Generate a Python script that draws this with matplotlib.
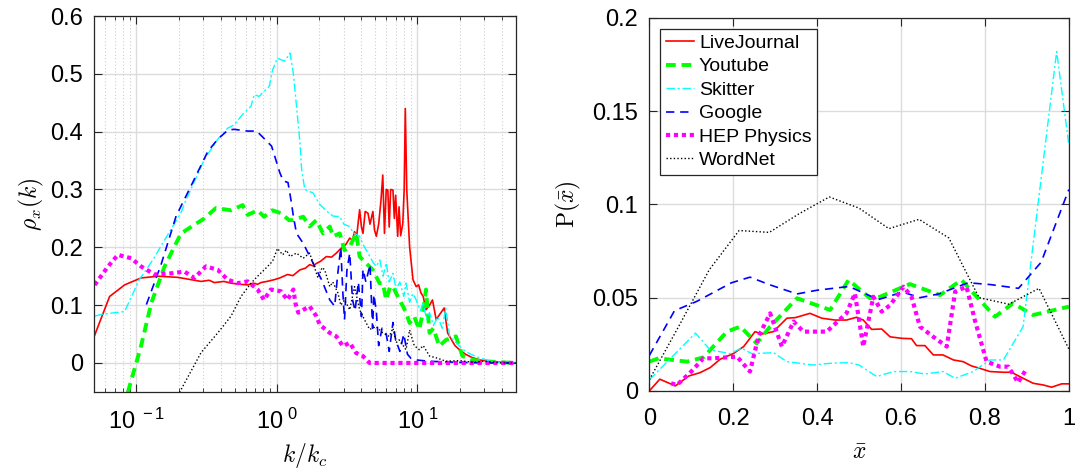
import numpy as np
import matplotlib
matplotlib.use('Agg')
import matplotlib.pyplot as plt
from matplotlib.ticker import LogLocator, NullFormatter, FixedLocator, FixedFormatter

# ---- left panel: rho_x(k) vs k/k_c ----
k_lj = [0.05, 0.0646, 0.0826, 0.108, 0.143, 0.198, 0.246, 0.289, 0.33, 0.359, 0.42, 0.472,
        0.55, 0.62, 0.68, 0.73, 0.77, 0.85, 0.957, 1.05, 1.19, 1.3, 1.46, 1.6, 1.71, 1.81,
        1.91, 2.05, 2.25, 2.45, 2.65, 2.8, 2.95, 3.1, 3.3, 3.45, 3.57, 3.7, 3.88, 4.0, 4.1,
        4.25, 4.45, 4.6, 4.82, 4.95, 5.1, 5.3, 5.5, 5.67, 5.83, 6.0, 6.16, 6.3, 6.45, 6.7,
        6.85, 7.0, 7.24, 7.4, 7.6, 7.87, 8.05, 8.2, 8.4, 8.8, 9.3, 9.8, 10.2, 10.6, 11.0,
        11.5, 12.2, 12.8, 13.6, 14.5, 15.5, 16.4, 17.5, 18.5, 19.9, 22, 24.7, 28, 33, 40, 50]
rho_lj = [0.045, 0.115, 0.135, 0.147, 0.150, 0.148, 0.144, 0.141, 0.143, 0.139, 0.141, 0.138,
          0.136, 0.135, 0.138, 0.136, 0.139, 0.141, 0.144, 0.147, 0.153, 0.151, 0.161, 0.164,
          0.170, 0.168, 0.172, 0.176, 0.184, 0.183, 0.190, 0.196, 0.201, 0.205, 0.216, 0.212,
          0.227, 0.220, 0.265, 0.235, 0.224, 0.262, 0.259, 0.240, 0.262, 0.230, 0.219, 0.240,
          0.280, 0.325, 0.224, 0.300, 0.299, 0.235, 0.300, 0.299, 0.250, 0.290, 0.219, 0.270,
          0.220, 0.241, 0.300, 0.440, 0.299, 0.201, 0.144, 0.132, 0.135, 0.121, 0.115, 0.092,
          0.100, 0.109, 0.075, 0.085, 0.095, 0.052, 0.040, 0.030, 0.023, 0.015, 0.009, 0.005,
          0.003, 0.001, 0.0]

k_yt = [0.087, 0.108, 0.128, 0.159, 0.208, 0.305, 0.369, 0.472, 0.571, 0.62, 0.73, 0.81, 0.93,
        1.07, 1.22, 1.31, 1.54, 1.71, 1.91, 2.13, 2.38, 2.51, 2.8, 3.03, 3.3, 3.67, 3.88, 4.33,
        4.82, 5.37, 5.67, 6.0, 6.4, 6.7, 7.45, 7.9, 8.3, 8.8, 9.5, 10.3, 11.0, 11.5, 12.2, 13,
        14.3, 16, 18.8, 20.9, 25, 30, 40, 50]
rho_yt = [-0.051, 0.029, 0.104, 0.167, 0.224, 0.250, 0.268, 0.264, 0.273, 0.256, 0.264, 0.253,
          0.264, 0.259, 0.247, 0.247, 0.253, 0.236, 0.247, 0.224, 0.236, 0.219, 0.224, 0.195,
          0.201, 0.224, 0.184, 0.172, 0.161, 0.138, 0.138, 0.109, 0.132, 0.132, 0.109, 0.098,
          0.087, 0.069, 0.080, 0.058, 0.090, 0.127, 0.052, 0.060, 0.029, 0.040, 0.046, 0.012,
          0.005, 0.003, 0.001, 0.0]

k_sk = [0.0506, 0.0565, 0.0826, 0.105, 0.131, 0.154, 0.208, 0.226, 0.305, 0.38, 0.447, 0.498,
        0.571, 0.655, 0.69, 0.748, 0.813, 0.882, 0.933, 1.01, 1.08, 1.14, 1.24, 1.31, 1.38,
        1.46, 1.5, 1.58, 1.81, 2.02, 2.25, 2.51, 2.8, 3.0, 3.3, 3.5, 3.88, 4.1, 4.45, 4.8, 5.1,
        5.4, 5.7, 6.0, 6.3, 6.7, 7.06, 7.5, 8.0, 8.3, 8.8, 9.3, 9.8, 10.5, 11.0, 11.6, 12.2,
        13, 14, 15, 15.9, 17, 18, 19.9, 22, 24, 27.5, 32, 41, 50]
rho_sk = [0.081, 0.084, 0.089, 0.144, 0.178, 0.207, 0.260, 0.282, 0.352, 0.387, 0.406, 0.412,
          0.430, 0.444, 0.464, 0.461, 0.470, 0.478, 0.507, 0.527, 0.524, 0.522, 0.536, 0.501,
          0.444, 0.381, 0.335, 0.300, 0.294, 0.274, 0.263, 0.254, 0.253, 0.240, 0.236, 0.225,
          0.219, 0.205, 0.190, 0.175, 0.167, 0.178, 0.150, 0.173, 0.140, 0.155, 0.127, 0.140,
          0.115, 0.138, 0.105, 0.120, 0.109, 0.090, 0.105, 0.075, 0.087, 0.065, 0.080, 0.060,
          0.095, 0.045, 0.040, 0.029, 0.020, 0.015, 0.009, 0.004, 0.0, 0.001]

k_go = [0.118, 0.15, 0.192, 0.245, 0.323, 0.38, 0.45, 0.498, 0.619, 0.718, 0.845, 0.917, 1.05,
        1.11, 1.2, 1.27, 1.31, 1.38, 1.54, 1.86, 2.08, 2.38, 2.58, 2.7, 2.85, 2.95, 3.03, 3.15,
        3.3, 3.45, 3.6, 3.8, 4.0, 4.1, 4.3, 4.6, 4.8, 4.9, 5.1, 5.3, 5.6, 6.0, 6.3, 6.7, 7.0,
        7.5, 8.0, 8.5, 9.0, 10, 12, 15, 20, 30, 50]
rho_go = [0.101, 0.170, 0.254, 0.306, 0.366, 0.387, 0.403, 0.404, 0.401, 0.401, 0.384, 0.375,
          0.329, 0.315, 0.312, 0.277, 0.254, 0.224, 0.207, 0.167, 0.144, 0.109, 0.098, 0.150,
          0.200, 0.120, 0.075, 0.160, 0.190, 0.110, 0.090, 0.140, 0.080, 0.162, 0.140, 0.170,
          0.060, 0.118, 0.090, 0.030, 0.060, 0.050, 0.020, 0.070, 0.040, 0.020, 0.050, 0.015,
          0.008, 0.005, 0.003, 0.002, 0.001, 0.0, 0.0]

k_hep = [0.0506, 0.063, 0.074, 0.092, 0.108, 0.135, 0.177, 0.22, 0.259, 0.313, 0.38, 0.447,
         0.526, 0.62, 0.73, 0.81, 0.906, 1.07, 1.19, 1.31, 1.36, 1.42, 1.71, 1.91, 2.02, 2.38,
         2.65, 2.95, 3.3, 3.67, 4.09, 4.57, 10, 50]
rho_hep = [0.135, 0.167, 0.187, 0.181, 0.167, 0.153, 0.155, 0.158, 0.147, 0.167, 0.161, 0.144,
           0.138, 0.141, 0.127, 0.109, 0.127, 0.124, 0.109, 0.127, 0.102, 0.087, 0.098, 0.081,
           0.066, 0.052, 0.046, 0.029, 0.035, 0.017, 0.012, 0.0, 0.0, 0.0]

k_wn = [0.203, 0.289, 0.38, 0.472, 0.556, 0.655, 0.73, 0.836, 0.933, 1.01, 1.1, 1.17, 1.24,
        1.38, 1.54, 1.71, 1.81, 1.96, 2.1, 2.19, 2.38, 2.5, 2.72, 2.85, 3.03, 3.3, 3.57, 3.88,
        4.2, 4.57, 5.1, 5.67, 6.3, 6.7, 7.06, 7.4, 8.3, 8.8, 9.5, 10.3, 11, 12.2, 14, 15.9, 20,
        25, 30, 40, 50]
rho_wn = [-0.051, 0.018, 0.052, 0.081, 0.115, 0.138, 0.150, 0.164, 0.176, 0.198, 0.187, 0.195,
          0.184, 0.190, 0.181, 0.190, 0.173, 0.147, 0.165, 0.161, 0.132, 0.140, 0.121, 0.100,
          0.109, 0.092, 0.132, 0.092, 0.075, 0.058, 0.063, 0.052, 0.046, 0.060, 0.035, 0.040,
          0.023, 0.057, 0.030, 0.023, 0.030, 0.012, 0.008, 0.003, 0.004, 0.001, 0.003, 0.0, 0.0]

# ---- right panel: P(xbar) ----
x_lj = [0, 0.025, 0.062, 0.094, 0.121, 0.145, 0.169, 0.20, 0.225, 0.252, 0.268, 0.296, 0.328,
        0.348, 0.383, 0.411, 0.443, 0.47, 0.494, 0.51, 0.53, 0.554, 0.574, 0.602, 0.625, 0.637,
        0.657, 0.677, 0.70, 0.725, 0.748, 0.768, 0.788, 0.812, 0.844, 0.863, 0.891, 0.915,
        0.939, 0.959, 0.983, 1.0]
p_lj = [0.0, 0.0063, 0.0027, 0.008, 0.0098, 0.0125, 0.017, 0.020, 0.0238, 0.0318, 0.0305,
        0.0318, 0.039, 0.0393, 0.0416, 0.039, 0.038, 0.038, 0.0395, 0.038, 0.033, 0.0332, 0.029,
        0.0282, 0.028, 0.0243, 0.0243, 0.0193, 0.0193, 0.0166, 0.0157, 0.0134, 0.0121, 0.0104,
        0.010, 0.010, 0.0068, 0.0041, 0.0032, 0.002, 0.0038, 0.0038]

x_yt = [0, 0.022, 0.09, 0.129, 0.185, 0.217, 0.256, 0.288, 0.352, 0.431, 0.475, 0.526, 0.55,
        0.621, 0.693, 0.744, 0.824, 0.867, 0.915, 1.0]
p_yt = [0.0157, 0.0175, 0.0157, 0.018, 0.0318, 0.0345, 0.0255, 0.0345, 0.0497, 0.0434, 0.0595,
        0.0497, 0.0505, 0.0573, 0.0514, 0.0595, 0.0398, 0.047, 0.0407, 0.0452]

x_sk = [0, 0.11, 0.145, 0.193, 0.22, 0.244, 0.296, 0.328, 0.39, 0.43, 0.475, 0.5, 0.542,
        0.582, 0.621, 0.657, 0.70, 0.729, 0.772, 0.812, 0.844, 0.891, 0.971, 1.0]
p_sk = [0.0059, 0.031, 0.022, 0.020, 0.023, 0.020, 0.0205, 0.0157, 0.0139, 0.0148, 0.0152,
        0.0139, 0.0077, 0.0104, 0.0104, 0.0091, 0.0104, 0.0068, 0.0104, 0.0166, 0.0166, 0.0345,
        0.182, 0.132]

x_go = [0, 0.06, 0.113, 0.196, 0.24, 0.286, 0.352, 0.40, 0.476, 0.546, 0.604, 0.645, 0.69,
        0.76, 0.814, 0.88, 0.934, 1.0]
p_go = [0.019, 0.043, 0.048, 0.058, 0.061, 0.057, 0.052, 0.054, 0.056, 0.049, 0.053, 0.050,
        0.052, 0.058, 0.057, 0.055, 0.069, 0.108]

x_hep = [0.052, 0.066, 0.10, 0.129, 0.153, 0.209, 0.24, 0.26, 0.288, 0.316, 0.344, 0.367,
         0.423, 0.47, 0.49, 0.51, 0.534, 0.554, 0.574, 0.606, 0.625, 0.645, 0.677, 0.709, 0.729,
         0.756, 0.776, 0.804, 0.836, 0.856, 0.879, 0.899]
p_hep = [0.0041, 0.0032, 0.0104, 0.0175, 0.0175, 0.0184, 0.0104, 0.029, 0.0416, 0.0238, 0.0372,
         0.0318, 0.0318, 0.0416, 0.0523, 0.0238, 0.0505, 0.0425, 0.046, 0.0559, 0.0505, 0.0345,
         0.029, 0.0238, 0.0532, 0.0559, 0.0379, 0.0157, 0.013, 0.013, 0.0045, 0.0118]

x_wn = [0, 0.071, 0.143, 0.214, 0.286, 0.357, 0.429, 0.5, 0.571, 0.643, 0.714, 0.786, 0.857,
        0.929, 1.0]
p_wn = [0.006, 0.035, 0.065, 0.086, 0.085, 0.095, 0.104, 0.098, 0.087, 0.092, 0.082, 0.050,
        0.0465, 0.055, 0.0225]

names = ['LiveJournal', 'Youtube', 'Skitter', 'Google', 'HEP Physics', 'WordNet']

plt.rcParams['font.family'] = ['Liberation Sans', 'DejaVu Sans']
plt.rcParams['mathtext.fontset'] = 'cm'

styles = [dict(color='#ff0000', lw=1.2, ls='-'),
          dict(color='#00ff00', lw=2.8, ls=(0, (2.5, 1.5))),
          dict(color='#00ffff', lw=1.0, ls=(0, (6, 2, 1.5, 2))),
          dict(color='#0000ff', lw=1.2, ls=(0, (5, 3.5))),
          dict(color='#ff00ff', lw=3.0, ls=(0, (1, 0.9))),
          dict(color='#000000', lw=1.0, ls=(0, (1, 1.6)))]

fig = plt.figure(figsize=(10.84, 4.71), dpi=100)
ax1 = fig.add_axes([0.0867, 0.168, 0.389, 0.798])
ax2 = fig.add_axes([0.599, 0.170, 0.387, 0.792])

left = [(k_lj, rho_lj), (k_yt, rho_yt), (k_sk, rho_sk), (k_go, rho_go), (k_hep, rho_hep), (k_wn, rho_wn)]
right = [(x_lj, p_lj), (x_yt, p_yt), (x_sk, p_sk), (x_go, p_go), (x_hep, p_hep), (x_wn, p_wn)]

for (x, y), st in zip(left, styles):
    ax1.plot(x, y, **st)
for (x, y), st, nm in zip(right, styles, names):
    ax2.plot(x, y, label=nm, **st)

ax1.set_xscale('log')
ax1.set_xlim(0.05, 50)
ax1.set_ylim(-0.05, 0.6)
ax1.xaxis.set_major_locator(FixedLocator([0.1, 1, 10]))
ax1.xaxis.set_major_formatter(FixedFormatter([r'$\mathregular{10^{\ -1}}$', r'$\mathregular{10^{\ 0}}$',
                                              r'$\mathregular{10^{\ 1}}$']))
ax1.xaxis.set_minor_locator(LogLocator(base=10, subs=np.arange(2, 10), numticks=20))
ax1.xaxis.set_minor_formatter(NullFormatter())
ax1.set_yticks([0, 0.1, 0.2, 0.3, 0.4, 0.5, 0.6])
ax1.set_yticklabels(['0', '0.1', '0.2', '0.3', '0.4', '0.5', '0.6'])
ax1.grid(True, which='major', color='#dcdcdc', lw=1.0)
ax1.grid(True, which='minor', axis='x', color='#cfcfcf', lw=0.8, ls=(0, (1, 2)))
ax1.set_xlabel(r'$k/k_c$', fontsize=17, labelpad=5)
ax1.set_ylabel(r'$\rho_x(k)$', fontsize=17, labelpad=3)

ax2.set_xlim(0, 1)
ax2.set_ylim(0, 0.2)
ax2.set_xticks([0, 0.2, 0.4, 0.6, 0.8, 1])
ax2.set_xticklabels(['0', '0.2', '0.4', '0.6', '0.8', '1'])
ax2.set_yticks([0, 0.05, 0.1, 0.15, 0.2])
ax2.set_yticklabels(['0', '0.05', '0.1', '0.15', '0.2'])
ax2.grid(True, color='#dcdcdc', lw=1.0)
ax2.set_xlabel(r'$\bar{x}$', fontsize=17, labelpad=9)
ax2.set_ylabel(r'$\mathrm{P}(\bar{x})$', fontsize=17, labelpad=7)

for ax in (ax1, ax2):
    ax.set_axisbelow(True)
    ax.tick_params(which='both', direction='in', top=True, right=True, labelsize=17,
                   color='#262626')
    ax.tick_params(axis='y', pad=8)
    ax.tick_params(axis='x', pad=12)
    ax.tick_params(which='major', length=6)
    ax.tick_params(which='minor', length=3)
    for sp in ax.spines.values():
        sp.set_color('#262626')
        sp.set_linewidth(0.9)

leg = ax2.legend(loc='upper left', fontsize=14, handlelength=1.45, handletextpad=0.25,
                 labelspacing=0.3, borderaxespad=0.55, borderpad=0.3, fancybox=False,
                 framealpha=1, edgecolor='#262626')
leg.get_frame().set_linewidth(0.9)

fig.savefig('out.png', dpi=100)
